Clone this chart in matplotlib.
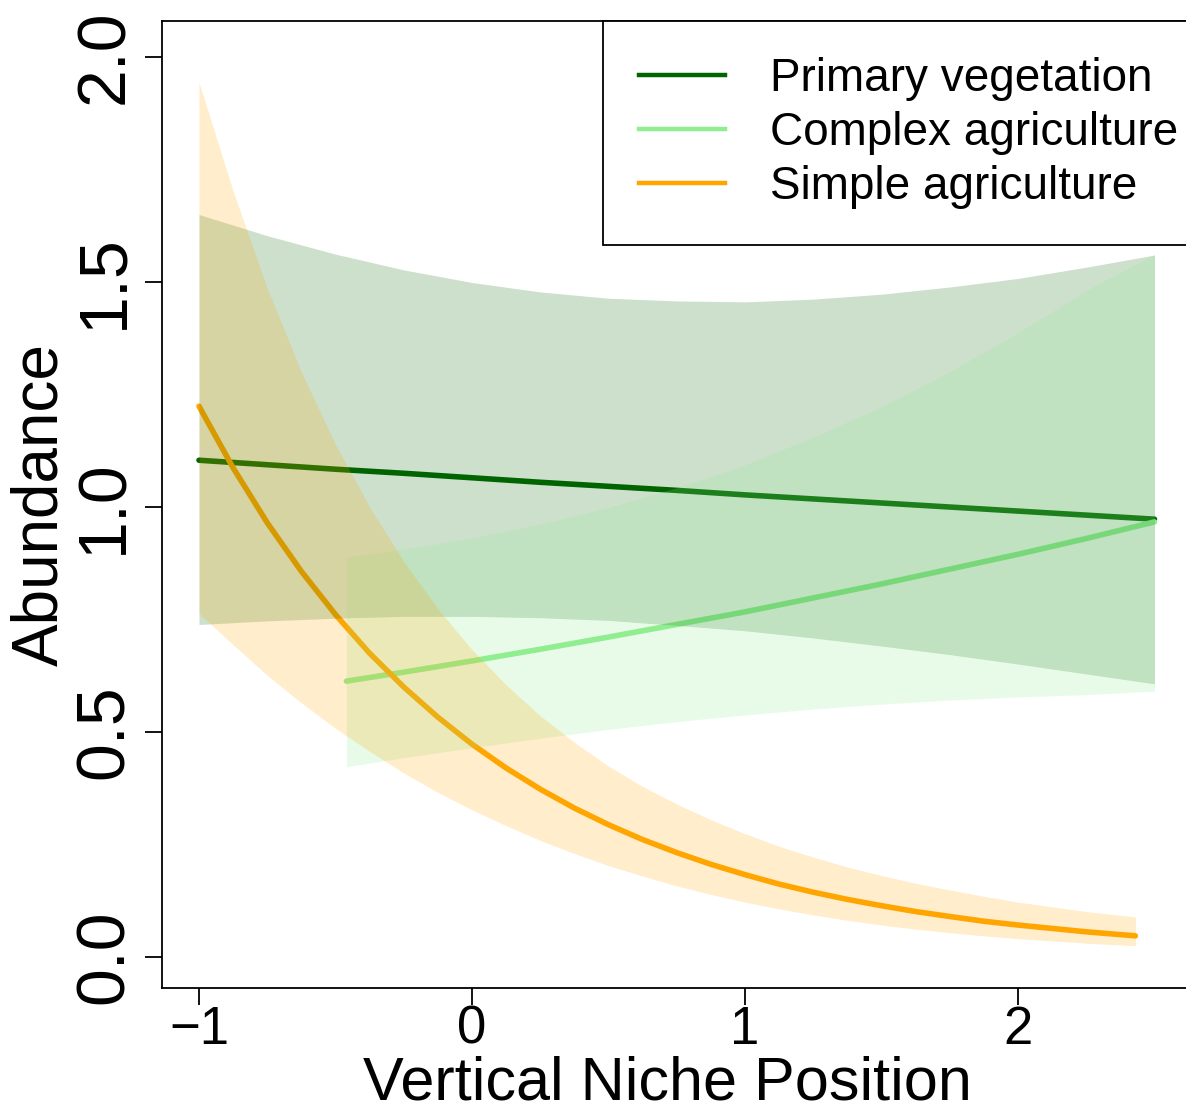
import numpy as np
import matplotlib.pyplot as plt
from matplotlib.lines import Line2D

plt.rcParams['font.family'] = ['Liberation Sans', 'DejaVu Sans']

# Primary vegetation: fitted abundance and 95% band
x_pv = [-1, -0.75, -0.5, -0.25, 0, 0.25, 0.5, 0.75, 1, 1.25, 1.5, 1.75, 2, 2.25, 2.5]
y_pv = [1.104, 1.094, 1.084, 1.075, 1.065, 1.055, 1.046, 1.037, 1.027, 1.018, 1.009, 1.000, 0.991, 0.982, 0.973]
hi_pv = [1.650, 1.603, 1.562, 1.527, 1.499, 1.478, 1.464, 1.458, 1.456, 1.462, 1.473, 1.489, 1.508, 1.533, 1.560]
lo_pv = [0.739, 0.747, 0.753, 0.757, 0.757, 0.754, 0.748, 0.737, 0.725, 0.709, 0.691, 0.672, 0.651, 0.629, 0.607]

# Complex agriculture
x_ca = [-0.46, -0.25, 0, 0.25, 0.5, 0.75, 1, 1.25, 1.5, 1.75, 2, 2.25, 2.5]
y_ca = [0.613, 0.633, 0.658, 0.684, 0.711, 0.739, 0.767, 0.798, 0.829, 0.862, 0.895, 0.930, 0.967]
hi_ca = [0.889, 0.906, 0.931, 0.962, 0.999, 1.043, 1.094, 1.155, 1.223, 1.301, 1.387, 1.481, 1.562]
lo_ca = [0.423, 0.443, 0.465, 0.486, 0.506, 0.523, 0.538, 0.551, 0.562, 0.571, 0.578, 0.583, 0.591]

# Simple agriculture
x_sa = [-1, -0.875, -0.75, -0.625, -0.5, -0.375, -0.25, -0.125, 0, 0.125, 0.25, 0.375, 0.5, 0.625,
        0.75, 0.875, 1, 1.125, 1.25, 1.375, 1.5, 1.625, 1.75, 1.875, 2, 2.25, 2.43]
y_sa = [1.224, 1.087, 0.965, 0.857, 0.761, 0.675, 0.600, 0.533, 0.473, 0.420, 0.373, 0.331, 0.294, 0.261,
        0.232, 0.206, 0.183, 0.162, 0.144, 0.128, 0.114, 0.101, 0.090, 0.0795, 0.071, 0.056, 0.047]
hi_sa = [1.944, 1.702, 1.486, 1.300, 1.139, 1.000, 0.879, 0.774, 0.683, 0.605, 0.536, 0.477, 0.424, 0.379,
         0.340, 0.305, 0.274, 0.246, 0.222, 0.200, 0.181, 0.164, 0.149, 0.135, 0.122, 0.101, 0.089]
lo_sa = [0.764, 0.694, 0.626, 0.565, 0.508, 0.457, 0.409, 0.366, 0.327, 0.292, 0.259, 0.230, 0.203, 0.180,
         0.158, 0.139, 0.122, 0.107, 0.0935, 0.0816, 0.0711, 0.062, 0.054, 0.047, 0.0408, 0.0308, 0.025]

labels = ['Primary vegetation', 'Complex agriculture', 'Simple agriculture']
colors = ['darkgreen', 'lightgreen', 'orange']

fig = plt.figure(figsize=(11.86, 11.14), dpi=100)
ax = fig.add_axes([0.1366, 0.1131, 0.8693, 0.8680])

series = [(x_pv, y_pv, lo_pv, hi_pv), (x_ca, y_ca, lo_ca, hi_ca), (x_sa, y_sa, lo_sa, hi_sa)]

# lines first, the shaded bands are laid over them
for (x, y, lo, hi), c in zip(series, colors):
    ax.plot(x, y, color=c, lw=4, solid_capstyle='round', solid_joinstyle='round', zorder=2)
for i, ((x, y, lo, hi), c) in enumerate(zip(series, colors)):
    ax.fill_between(x, lo, hi, color=c, alpha=0.2, lw=0, zorder=3 + i)

ax.set_xlim(-1.1355, 2.641)
ax.set_ylim(-0.0689, 2.08)
ax.set_xticks([-1, 0, 1, 2])
ax.set_yticks([0, 0.5, 1, 1.5, 2])
ax.set_yticklabels(['0.0', '0.5', '1.0', '1.5', '2.0'], rotation=90, va='center')
ax.tick_params(axis='both', direction='out', length=12.2, width=1.3, colors='black')
ax.tick_params(axis='x', labelsize=38, pad=0)
ax.tick_params(axis='y', labelsize=49, pad=6)
for s in ax.spines.values():
    s.set_linewidth(1.3)

ax.set_xlabel('Vertical Niche Position', fontsize=44)
ax.set_ylabel('Abundance', fontsize=46)
ax.xaxis.set_label_coords(0.49, -0.0695)
ax.yaxis.set_label_coords(-0.0885, 0.5)

handles = [Line2D([], [], color=c, lw=3.2) for c in colors]
leg = ax.legend(handles, labels, loc='upper left', bbox_to_anchor=(0.4277, 1.0),
                fontsize=33, frameon=True, fancybox=False, edgecolor='black',
                framealpha=1, borderpad=0.78, labelspacing=0.22,
                handlelength=1.88, handletextpad=0.98, borderaxespad=0)
leg.get_frame().set_linewidth(1.3)

fig.savefig('out.png', dpi=100)
